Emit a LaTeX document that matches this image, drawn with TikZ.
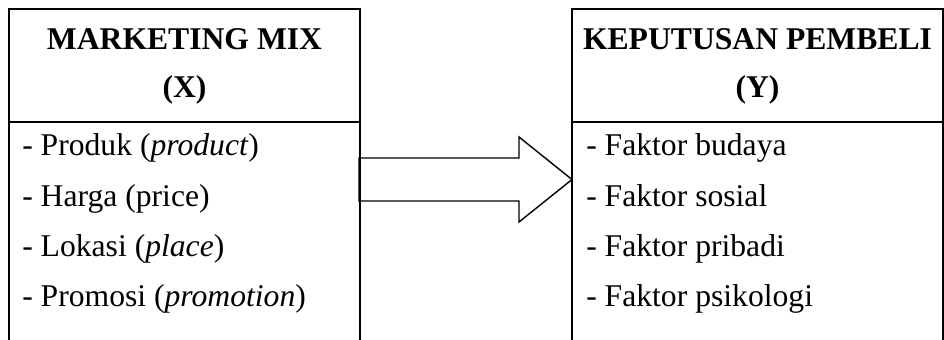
\documentclass[tikz,border=0pt]{standalone}
\usepackage{fontspec}
\setmainfont{Liberation Serif}
\usetikzlibrary{positioning}

\tikzset{
  frame/.style={line width=1.5pt},
  heading/.style={font=\fontsize{22.5}{27}\selectfont\bfseries, inner sep=0pt, anchor=base},
  item/.style={font=\fontsize{22.5}{27}\selectfont, inner sep=0pt, anchor=base west},
  blockarrow/.style={line width=1pt, line join=miter}
}

\begin{document}
\begin{tikzpicture}[x=0.025cm, y=-0.025cm]
	\useasboundingbox (0,0) rectangle (944,340);
	% left frame: marketing mix
	\draw[frame] (9,340) -- (9,9) -- (360,9) -- (360,340);
	\draw[frame] (9,122) -- (360,122);
	\node[heading] (mixtitle) at (184.5,50) {MARKETING MIX};
	\node[heading] (mixvar) at (184.5,98) {(X)};
	% right frame: keputusan pembeli
	\draw[frame] (572,340) -- (572,9) -- (943,9) -- (943,340);
	\draw[frame] (572,122) -- (943,122);
	\node[heading] (kepttitle) at (757.5,50) {KEPUTUSAN PEMBELI};
	\node[heading] (kepvar) at (757.5,98) {(Y)};
	% items
	\foreach \txt [count=\i] in {- Produk (\textit{product}), - Harga (price), - Lokasi (\textit{place}), - Promosi (\textit{promotion})}
		\node[item] (mix\i) at (22,106+50*\i) {\txt};
	\foreach \txt [count=\i] in {- Faktor budaya, - Faktor sosial, - Faktor pribadi, - Faktor psikologi}
		\node[item] (kep\i) at (586,106+50*\i) {\txt};
	% big arrow between the frames
	\coordinate (mixR) at (359,179.5);
	\coordinate (kepL) at (572,179.5);
	\draw[blockarrow] (mixR) ++(0,-21.5) -- ++(160,0) -- ++(0,-21) -- (kepL)
		-- ++(-53,42.5) -- ++(0,-21) -- ++(-160,0) -- cycle;
\end{tikzpicture}
\end{document}
